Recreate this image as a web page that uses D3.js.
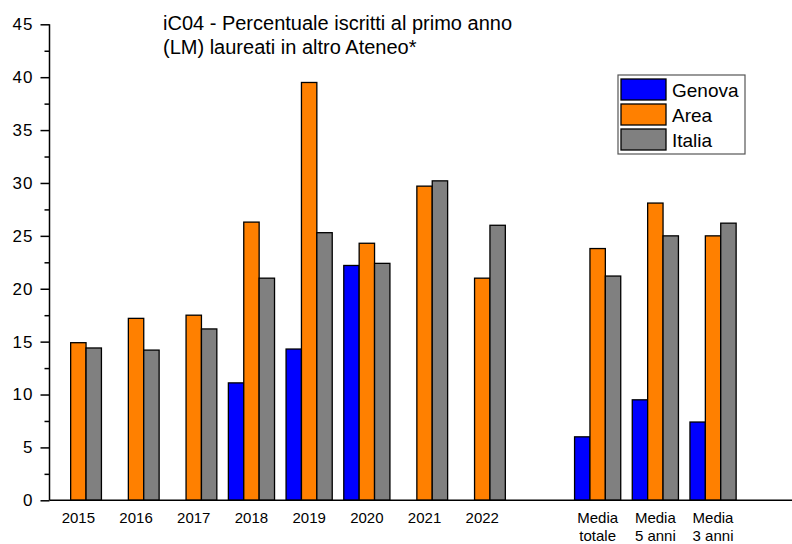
<!DOCTYPE html>
<html>
<head>
<meta charset="utf-8">
<script src="https://cdn.jsdelivr.net/npm/d3@7"></script>
<style>
  body { margin: 0; background: #fff; }
  svg { display: block; font-family: "Liberation Sans", Arial, sans-serif; }
</style>
</head>
<body>
<svg id="chart" width="792" height="544"></svg>
<script>
// categories (the empty one is the gap before the averages)
var categories = ["2015", "2016", "2017", "2018", "2019", "2020", "2021", "2022", "",
                  "Media\ntotale", "Media\n5 anni", "Media\n3 anni"];
var seriesNames = ["Genova", "Area", "Italia"];
var genova = [null, null, null, 11.1, 14.3, 22.2, null, null, null, 6.0, 9.5, 7.4];
var area   = [14.9, 17.2, 17.5, 26.3, 39.5, 24.3, 29.7, 21.0, null, 23.8, 28.1, 25.0];
var italia = [14.4, 14.2, 16.2, 21.0, 25.3, 22.4, 30.2, 26.0, null, 21.2, 25.0, 26.2];
var yTicks = [0, 5, 10, 15, 20, 25, 30, 35, 40, 45];
var yMinor = [2.5, 7.5, 12.5, 17.5, 22.5, 27.5, 32.5, 37.5, 42.5];
var colors = ["#0000ff", "#ff8000", "#808080"];
var titleLines = ["iC04 - Percentuale iscritti al primo anno", "(LM) laureati in altro Ateneo*"];

var svg = d3.select("#chart");

var x0 = d3.scaleBand()
    .domain(d3.range(categories.length))
    .range([49.5, 741.9])
    .paddingInner(0.2)
    .paddingOuter(0.1);

var x1 = d3.scaleBand()
    .domain(seriesNames)
    .range([0, x0.bandwidth()]);

var y = d3.scaleLinear()
    .domain([0, 45])
    .range([500.3, 24.3]);

var color = d3.scaleOrdinal().domain(seriesNames).range(colors);

var allSeries = [genova, area, italia];
var rows = [];
categories.forEach(function(c, i) {
  seriesNames.forEach(function(s, j) {
    if (allSeries[j][i] != null) rows.push({cat: i, series: s, value: allSeries[j][i]});
  });
});

// bars
svg.append("g")
  .selectAll("rect")
  .data(rows)
  .enter().append("rect")
    .attr("x", function(d) { return x0(d.cat) + x1(d.series); })
    .attr("y", function(d) { return y(d.value); })
    .attr("width", x1.bandwidth())
    .attr("height", function(d) { return y(0) - y(d.value); })
    .attr("fill", function(d) { return color(d.series); })
    .attr("stroke", "#000")
    .attr("stroke-width", 1.3);

// y axis
var yAxis = svg.append("g")
    .attr("transform", "translate(49.5,0)")
    .call(d3.axisLeft(y).tickValues(yTicks).tickSize(9).tickPadding(7).tickFormat(d3.format("d")));
yAxis.select(".domain").attr("stroke-width", 1.5).attr("d", "M0," + y(45) + "V" + y(0));
yAxis.selectAll(".tick line").attr("stroke-width", 1.5);
yAxis.selectAll("text").attr("font-size", 17).attr("letter-spacing", 1).attr("fill", "#000")
    .attr("font-family", "Liberation Sans, Arial, sans-serif");

var yMinorAxis = svg.append("g")
    .attr("transform", "translate(49.5,0)")
    .call(d3.axisLeft(y).tickValues(yMinor).tickSize(5).tickFormat(""));
yMinorAxis.select(".domain").remove();
yMinorAxis.selectAll(".tick line").attr("stroke-width", 1.5);

// x axis line
svg.append("line")
    .attr("x1", 49.5).attr("x2", 792)
    .attr("y1", y(0)).attr("y2", y(0))
    .attr("stroke", "#000").attr("stroke-width", 1.5);

// x labels
var xl = svg.append("g").selectAll("text")
  .data(categories.map(function(c, i) { return {c: c, i: i}; }).filter(function(d) { return d.c !== ""; }))
  .enter().append("text")
    .attr("x", function(d) { return x0(d.i) + x0.bandwidth() / 2; })
    .attr("y", 523)
    .attr("text-anchor", "middle")
    .attr("font-size", 15);
xl.selectAll("tspan")
  .data(function(d) { return d.c.split("\n").map(function(t, k) { return {t: t, k: k, x: x0(d.i) + x0.bandwidth() / 2}; }); })
  .enter().append("tspan")
    .attr("x", function(t) { return t.x; })
    .attr("dy", function(t) { return t.k ? 18 : 0; })
    .text(function(t) { return t.t; });

// title
svg.append("g").selectAll("text")
  .data(titleLines)
  .enter().append("text")
    .attr("x", 163)
    .attr("y", function(d, i) { return 30 + i * 24; })
    .attr("font-size", 20)
    .text(function(d) { return d; });

// legend
var legend = svg.append("g").attr("transform", "translate(618,75)");
legend.append("rect")
    .attr("width", 127).attr("height", 79)
    .attr("fill", "#fff").attr("stroke", "#555").attr("stroke-width", 1.2);
var li = legend.selectAll(".li")
  .data(seriesNames)
  .enter().append("g")
    .attr("transform", function(d, i) { return "translate(3," + (4 + i * 25) + ")"; });
li.append("rect")
    .attr("width", 45).attr("height", 21)
    .attr("fill", function(d) { return color(d); })
    .attr("stroke", "#000").attr("stroke-width", 1.3);
li.append("text")
    .attr("x", 51).attr("y", 17.5)
    .attr("font-size", 19)
    .text(function(d) { return d; });
</script>
</body>
</html>
